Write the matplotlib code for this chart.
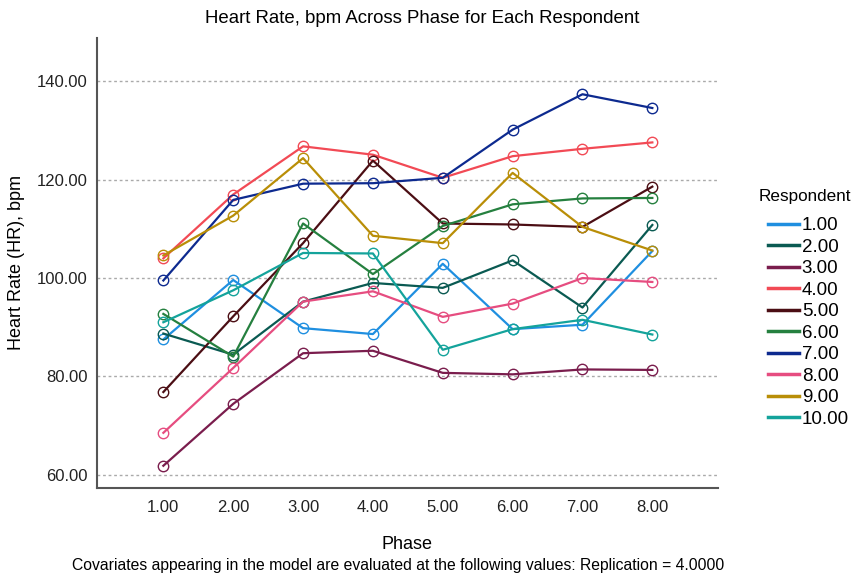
import matplotlib
matplotlib.use("Agg")
import matplotlib.pyplot as plt

plt.rcParams['font.family'] = ['Liberation Sans', 'DejaVu Sans']

phases = [1, 2, 3, 4, 5, 6, 7, 8]
respondents = ['1.00', '2.00', '3.00', '4.00', '5.00',
               '6.00', '7.00', '8.00', '9.00', '10.00']

hr_1 = [87.5, 99.6, 89.8, 88.6, 102.9, 89.6, 90.5, 105.5]
hr_2 = [88.7, 84.4, 95.2, 99.0, 98.0, 103.6, 94.0, 110.8]
hr_3 = [61.8, 74.4, 84.7, 85.2, 80.7, 80.4, 81.4, 81.3]
hr_4 = [104.0, 117.0, 126.8, 125.1, 120.4, 124.8, 126.3, 127.6]
hr_5 = [76.8, 92.2, 107.1, 123.9, 111.1, 110.9, 110.4, 118.6]
hr_6 = [92.7, 84.0, 111.1, 100.8, 110.6, 115.0, 116.2, 116.3]
hr_7 = [99.5, 115.9, 119.2, 119.3, 120.4, 130.2, 137.4, 134.6]
hr_8 = [68.5, 81.7, 95.2, 97.3, 92.1, 94.8, 100.0, 99.2]
hr_9 = [104.6, 112.7, 124.4, 108.6, 107.1, 121.4, 110.4, 105.6]
hr_10 = [91.0, 97.5, 105.1, 105.0, 85.4, 89.6, 91.5, 88.5]

series = [hr_1, hr_2, hr_3, hr_4, hr_5, hr_6, hr_7, hr_8, hr_9, hr_10]
colors = ['#1f8fe0', '#0a5a52', '#7a1d4d', '#f24a55', '#4b0e14',
          '#25803f', '#0d2a8f', '#e64d80', '#b98e07', '#14a39b']

fig = plt.figure(figsize=(8.61, 5.80), dpi=100)
ax = fig.add_axes([97 / 861, 92 / 580, 621 / 861, 450 / 580])

for vals, col, lab in zip(series, colors, respondents):
    ax.plot(phases, vals, color=col, lw=1.6, label=lab,
            marker='o', markersize=7.5, markerfacecolor='none',
            markeredgewidth=1.0)

ax.set_xlim(0.05, 8.94)
ax.set_ylim(57.27, 148.85)
ax.set_xticks(phases)
ax.set_xticklabels(['%.2f' % p for p in phases])
ax.set_yticks([60, 80, 100, 120, 140])
ax.set_yticklabels(['60.00', '80.00', '100.00', '120.00', '140.00'])
ax.tick_params(length=0, labelsize=12, colors='#222222')
ax.tick_params(axis='y', pad=7)
ax.tick_params(axis='x', pad=9)
ax.yaxis.grid(True, linestyle=(0, (2, 2)), color='#aaaaaa', lw=1)
ax.set_axisbelow(True)

for s in ['top', 'right']:
    ax.spines[s].set_visible(False)
for s in ['left', 'bottom']:
    ax.spines[s].set_color('#555555')
    ax.spines[s].set_linewidth(1.5)

ax.set_title('Heart Rate, bpm Across Phase for Each Respondent',
             fontsize=13.4, pad=11, x=0.524)
ax.set_xlabel('Phase', fontsize=13, labelpad=15)
ax.set_ylabel('Heart Rate (HR), bpm', fontsize=13, labelpad=8)

# legend title drawn separately so the gap to the entries matches
leg = ax.legend(loc='upper left', bbox_to_anchor=(1.0527, 0.6396),
                frameon=False, fontsize=13.5, handlelength=1.7,
                handletextpad=0.12, labelspacing=0.235)
for line in leg.get_lines():
    line.set_linewidth(2.5)
    line.set_marker('')
fig.text(0.935, 0.662, 'Respondent', ha='center', va='center', fontsize=12.3)

fig.text(0.462, 0.017, 'Covariates appearing in the model are evaluated at '
         'the following values: Replication = 4.0000',
         ha='center', fontsize=11.35)

fig.savefig('out.png', dpi=100)
